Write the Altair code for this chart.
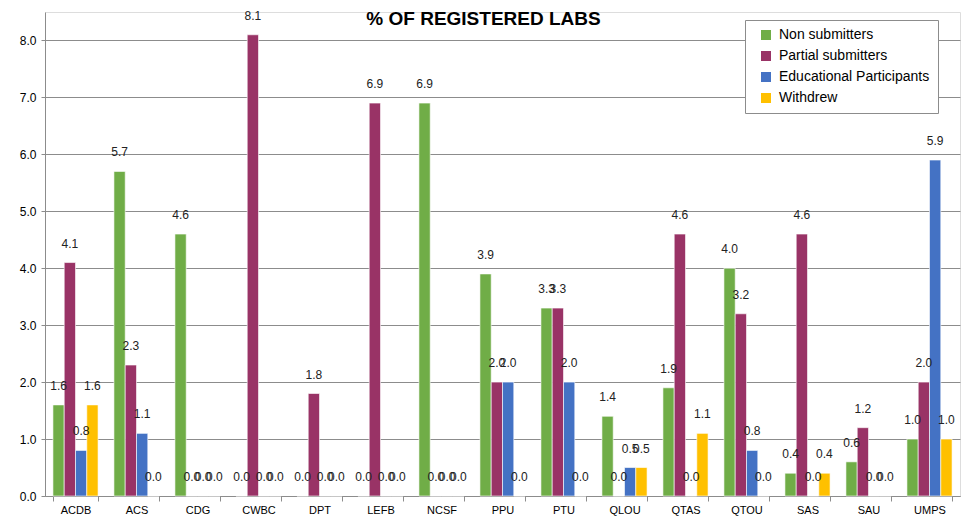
import altair as alt
import pandas as pd

labs = ["ACDB", "ACS", "CDG", "CWBC", "DPT", "LEFB", "NCSF", "PPU", "PTU",
        "QLOU", "QTAS", "QTOU", "SAS", "SAU", "UMPS"]
series = ["Non submitters", "Partial submitters", "Educational Participants", "Withdrew"]
colors = ["#70AD47", "#993366", "#4472C4", "#FFC000"]

non_submitters = [1.6, 5.7, 4.6, 0.0, 0.0, 0.0, 6.9, 3.9, 3.3, 1.4, 1.9, 4.0, 0.4, 0.6, 1.0]
partial_submitters = [4.1, 2.3, 0.0, 8.1, 1.8, 6.9, 0.0, 2.0, 3.3, 0.0, 4.6, 3.2, 4.6, 1.2, 2.0]
educational = [0.8, 1.1, 0.0, 0.0, 0.0, 0.0, 0.0, 2.0, 2.0, 0.5, 0.0, 0.8, 0.0, 0.0, 5.9]
withdrew = [1.6, 0.0, 0.0, 0.0, 0.0, 0.0, 0.0, 0.0, 0.0, 0.5, 1.1, 0.0, 0.4, 0.0, 1.0]

rows = []
for i, lab in enumerate(labs):
    for s, vals in zip(series, [non_submitters, partial_submitters, educational, withdrew]):
        rows.append({"lab": lab, "series": s, "value": vals[i]})
df = pd.DataFrame(rows)

FONT = "Liberation Sans"
GRID = "#8c8c8c"

x = alt.X("lab:N", sort=labs, title=None,
          scale=alt.Scale(paddingInner=0.26, paddingOuter=0.13),
          axis=alt.Axis(labelAngle=0, tickBand="extent", grid=False,
                        domainColor=GRID, tickColor=GRID, tickSize=5,
                        labelFontSize=11, labelPadding=3, labelColor="black",
                        labelFont=FONT))
xo = alt.XOffset("series:N", sort=series,
                 scale=alt.Scale(paddingInner=0, paddingOuter=0))
y = alt.Y("value:Q", title=None,
          scale=alt.Scale(domain=[0, 8.5], nice=False),
          axis=alt.Axis(values=[0, 1, 2, 3, 4, 5, 6, 7, 8], format=".1f",
                        gridColor=GRID, gridOpacity=1, domainColor=GRID,
                        tickColor=GRID, tickSize=4, labelFontSize=12,
                        labelColor="black", labelPadding=5, labelFont=FONT))
color = alt.Color("series:N", sort=series, title=None,
                  scale=alt.Scale(domain=series, range=colors),
                  legend=alt.Legend(orient="none", legendX=700, legendY=8,
                                    symbolType="square", symbolSize=100,
                                    symbolStrokeWidth=0, symbolOffset=6,
                                    labelFontSize=14, labelFont=FONT,
                                    labelColor="black", labelOffset=6,
                                    strokeColor=GRID, fillColor="white",
                                    padding=8, rowPadding=7, offset=0))

bars = alt.Chart(df).mark_bar(stroke="white", strokeWidth=0.6).encode(
    x=x, xOffset=xo, y=y, color=color)

labels = alt.Chart(df).mark_text(dy=-19, fontSize=12, font=FONT,
                                 color="#222222").encode(
    x=alt.X("lab:N", sort=labs), xOffset=alt.XOffset("series:N", sort=series),
    y="value:Q", text=alt.Text("value:Q", format=".1f"))

chart = alt.layer(bars, labels).properties(
    width=915, height=484,
    title=alt.TitleParams("% OF REGISTERED LABS", fontSize=19, fontWeight="bold",
                          font=FONT, anchor="middle", dx=-19, dy=23,
                          color="black"),
    padding={"left": 45, "top": 12, "right": 4, "bottom": 21},
    autosize=alt.AutoSizeParams(type="none"),
).configure_view(stroke=None).configure(background="white")

chart.save("out.html", embed_options={"renderer": "svg", "actions": False})
